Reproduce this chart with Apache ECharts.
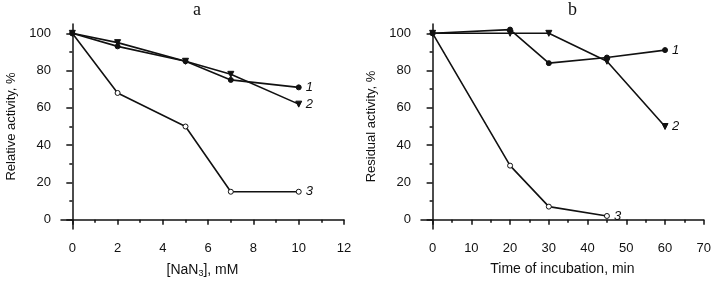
<!DOCTYPE html>
<html lang="en">
<head>
    <meta charset="UTF-8">
    <title>NaN3 activity</title>
    <script src="https://cdn.jsdelivr.net/npm/echarts@6/dist/echarts.min.js"></script>
</head>
<body style="margin:0">
<div id="chartmain" style="width:714px;height:285px"></div>
<script type="text/javascript">
    // panel a: relative activity vs [NaN3]
    var concA = [0, 2, 5, 7, 10];
    var relA1 = [100, 93, 85, 75, 71];
    var relA2 = [100, 95, 85, 78, 62];
    var relA3 = [100, 68, 50, 15, 15];
    // panel b: residual activity vs incubation time
    var timeB = [0, 20, 30, 45, 60];
    var resB1 = [100, 102, 84, 87, 91];
    var resB2 = [100, 100, 100, 85, 50];
    var resB3 = [100, 29, 7, 2];
    // tick labels
    var xTicksA = [0, 2, 4, 6, 8, 10, 12];
    var xMinorA = [1, 3, 5, 7, 9, 11];
    var xTicksB = [0, 10, 20, 30, 40, 50, 60, 70];
    var xMinorB = [5, 15, 25, 35, 45, 55, 65];
    var yTicks = [0, 20, 40, 60, 80, 100];
    var yMinor = [10, 30, 50, 70, 90];

    var font = 'Liberation Sans';
    var black = '#111';

    function pairs(xs, ys) {
        return ys.map(function (v, i) { return [xs[i], v]; });
    }

    function majorX(grid, min, max, ticks, name) {
        return {
            gridIndex: grid, type: 'value', position: 'bottom', min: min, max: max,
            name: name, nameLocation: 'middle', nameGap: 33,
            nameTextStyle: {
                fontFamily: font, fontSize: 14, color: black,
                rich: { sub: { fontFamily: font, fontSize: 9, color: black, padding: [7, 0, 0, 0] } }
            },
            splitLine: { show: false },
            axisLine: { lineStyle: { color: black, width: 1.5 } },
            axisTick: { customValues: ticks, length: 5, lineStyle: { color: black, width: 1.5 } },
            axisLabel: { customValues: ticks, margin: 13, fontFamily: font, fontSize: 13, color: black }
        };
    }
    function minorX(grid, min, max, ticks) {
        return {
            gridIndex: grid, type: 'value', position: 'bottom', min: min, max: max,
            splitLine: { show: false },
            axisLine: { show: false },
            axisTick: { customValues: ticks, length: 3, lineStyle: { color: black, width: 1.5 } },
            axisLabel: { show: false }
        };
    }
    function majorY(grid, name) {
        return {
            gridIndex: grid, type: 'value', position: 'left', min: -5, max: 105,
            name: name, nameLocation: 'middle', nameGap: 43,
            nameTextStyle: { fontFamily: font, fontSize: 13, color: black },
            splitLine: { show: false },
            axisLine: { show: true, lineStyle: { color: black, width: 1.5 } },
            axisTick: { show: true, customValues: yTicks, length: 6, lineStyle: { color: black, width: 1.5 } },
            axisLabel: { customValues: yTicks, margin: 10, fontFamily: font, fontSize: 13, color: black }
        };
    }
    function minorY(grid) {
        return {
            gridIndex: grid, type: 'value', position: 'left', min: -5, max: 105,
            splitLine: { show: false },
            axisLine: { show: false },
            axisTick: { show: true, customValues: yMinor, length: 3, lineStyle: { color: black, width: 1.5 } },
            axisLabel: { show: false }
        };
    }
    function line(xi, yi, data, symbol, label) {
        var open = symbol === 'open';
        return {
            type: 'line', xAxisIndex: xi, yAxisIndex: yi, data: data,
            symbol: open ? 'circle' : symbol, symbolSize: symbol === 'triangle' ? 6 : 5,
            symbolRotate: symbol === 'triangle' ? 180 : 0,
            lineStyle: { color: black, width: 1.6 },
            itemStyle: { color: open ? '#fff' : black, borderColor: black, borderWidth: 1 },
            endLabel: {
                show: true, formatter: label, distance: 7,
                fontFamily: font, fontStyle: 'italic', fontSize: 13, color: black
            }
        };
    }

    var myChart = echarts.init(document.getElementById('chartmain'));
    var option = {
        animation: false,
        backgroundColor: '#fff',
        title: [
            { text: 'a', left: 193, top: 1, padding: 0, textStyle: { fontFamily: 'Liberation Serif', fontSize: 18, fontWeight: 'normal', color: black } },
            { text: 'b', left: 568, top: 1, padding: 0, textStyle: { fontFamily: 'Liberation Serif', fontSize: 18, fontWeight: 'normal', color: black } }
        ],
        grid: [
            { left: 61, right: 370, top: 24, bottom: 56 },
            { left: 421, right: 10, top: 24, bottom: 56 }
        ],
        xAxis: [
            majorX(0, -0.5, 12, xTicksA, '[NaN{sub|3}], mM'),
            minorX(0, -0.5, 12, xMinorA),
            majorX(1, -3, 70, xTicksB, 'Time of incubation, min'),
            minorX(1, -3, 70, xMinorB)
        ],
        yAxis: [
            majorY(0, 'Relative activity, %'),
            minorY(0),
            majorY(1, 'Residual activity, %'),
            minorY(1)
        ],
        // open-circle series first so the filled markers sit on top at the shared start point
        series: [
            line(0, 0, pairs(concA, relA3), 'open', '3'),
            line(0, 0, pairs(concA, relA2), 'triangle', '2'),
            line(0, 0, pairs(concA, relA1), 'circle', '1'),
            line(2, 2, pairs(timeB, resB3), 'open', '3'),
            line(2, 2, pairs(timeB, resB2), 'triangle', '2'),
            line(2, 2, pairs(timeB, resB1), 'circle', '1')
        ]
    };
    myChart.setOption(option);
</script>
</body>
</html>
